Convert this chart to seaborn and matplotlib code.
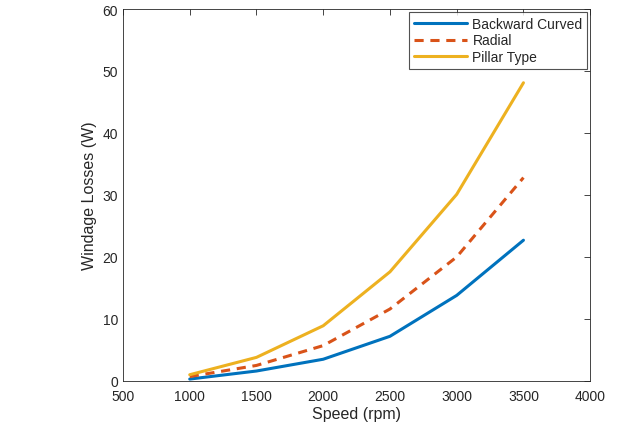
import seaborn as sns
import pandas as pd
import numpy as np
import matplotlib.pyplot as plt

speed = [1000, 1500, 2000, 2500, 3000, 3500]
backward = [0.3, 1.6, 3.5, 7.2, 13.8, 22.7]
radial = [0.7, 2.5, 5.7, 11.6, 20.0, 32.8]
pillar = [1.0, 3.8, 8.9, 17.6, 30.1, 48.1]
names = ['Backward Curved', 'Radial', 'Pillar Type']

df = pd.DataFrame({'speed': speed * 3,
                   'loss': backward + radial + pillar,
                   'type': [n for n in names for _ in speed]})

sns.set_style('white')
plt.rcParams['font.family'] = ['Liberation Sans', 'DejaVu Sans']

fig = plt.figure(figsize=(6.18, 4.35), dpi=100)
ax = fig.add_axes([0.199, 0.122, 0.756, 0.855])
ax = sns.lineplot(data=df, x='speed', y='loss', hue='type', style='type',
                  palette=['#0072BD', '#D95319', '#EDB120'],
                  dashes=[(None, None), (3, 2.2), (None, None)],
                  linewidth=2.2, ax=ax)
ax.set_xlim(500, 4000)
ax.set_ylim(0, 60)
ax.set_xticks(range(500, 4001, 500))
ax.set_yticks(range(0, 61, 10))
ax.tick_params(direction='in', top=True, right=True, labelsize=10, length=4,
               color='#262626', labelcolor='#262626', width=0.6)
ax.tick_params(axis='x', pad=6)
for s in ax.spines.values():
    s.set_color('#262626')
    s.set_linewidth(0.6)
ax.set_xlabel('Speed (rpm)', fontsize=11.5, color='#262626', labelpad=2)
ax.set_ylabel('Windage Losses (W)', fontsize=11.5, color='#262626')
leg = ax.legend(loc='upper right', fontsize=10, frameon=True, fancybox=False,
                borderaxespad=0.2, handlelength=3.8, labelspacing=0.2,
                borderpad=0.35, handletextpad=0.4)
leg.get_frame().set_edgecolor('#262626')
leg.get_frame().set_linewidth(0.8)
fig.savefig('out.png', dpi=100)
